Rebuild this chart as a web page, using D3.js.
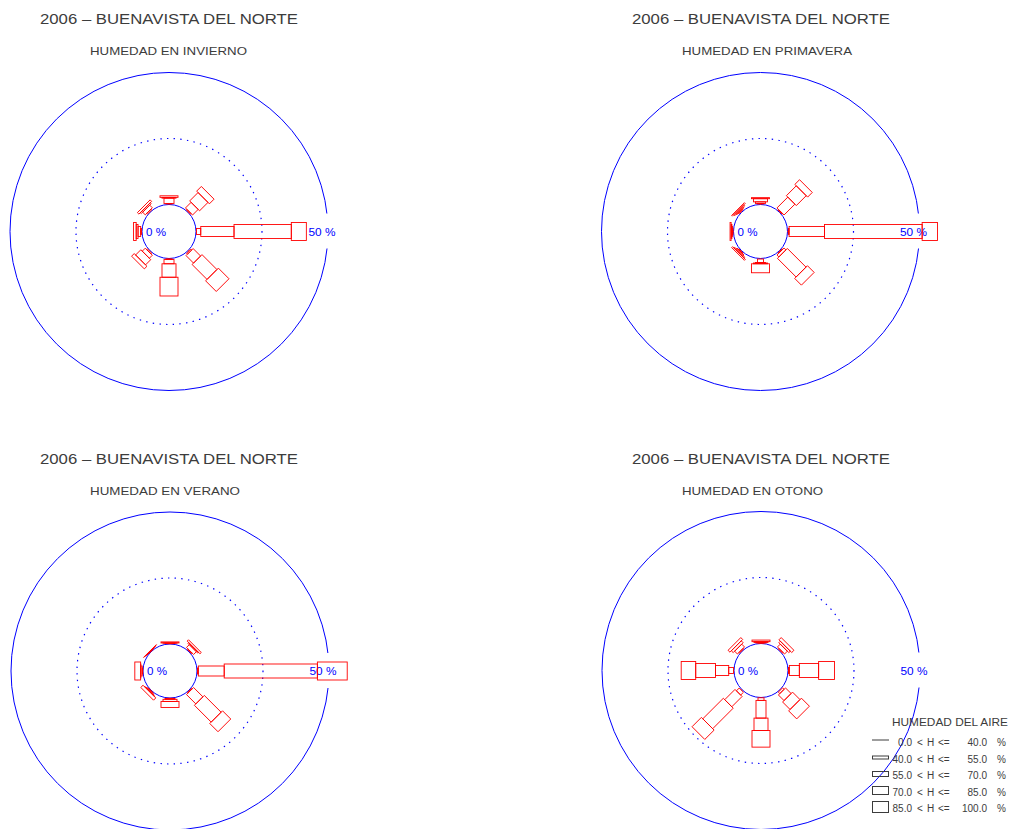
<!DOCTYPE html>
<html>
<head>
<meta charset="utf-8">
<script src="https://cdn.jsdelivr.net/npm/d3@7"></script>
<style>
  body { margin: 0; background: #fff; }
  text { font-family: "Liberation Sans", Arial, sans-serif; }
</style>
</head>
<body>
<script>
// rumbos (N arriba, sentido horario)
var direcciones = ["N", "NE", "E", "SE", "S", "SW", "W", "NW"];
var rumbos = [0, 45, 90, 135, 180, 225, 270, 315];

// clases de humedad
var limInf = ["0.0", "40.0", "55.0", "70.0", "85.0"];
var limSup = ["40.0", "55.0", "70.0", "85.0", "100.0"];

// % de frecuencia por rumbo y clase (N, NE, E, SE, S, SW, W, NW)
var invierno = [
  [0.2, 0.2, 2.0, 0.3, 0.6],
  [0.2, 0.3, 3.0, 4.5, 2.5],
  [0.2, 1.6, 12.6, 21.7, 5.7],
  [0.3, 0.5, 4.0, 8.0, 5.7],
  [0.1, 0.3, 1.6, 5.1, 7.1],
  [0.2, 0.4, 1.6, 2.8, 1.4],
  [0.2, 0.3, 1.0, 0.7, 1.0],
  [0.2, 0.4, 1.4, 0.5, 0.8]
];
var primavera = [
  [0.2, 0.2, 0.6, 1.2, 0.4],
  [0.2, 0.3, 5.8, 5.3, 2.5],
  [0.3, 0.3, 13.4, 37.0, 5.8],
  [0.2, 0.3, 1.0, 10.0, 3.6],
  [0.2, 1.3, 0.2, 0.3, 3.4],
  [0.2, 0.3, 0.4, 0.4, 0.5],
  [0.2, 0.2, 0.2, 0.3, 0.4],
  [0.3, 0.3, 0.3, 0.5, 0.4]
];
var verano = [
  [0.1, 0.1, 0.1, 0.1, 0.4],
  [0.2, 0.3, 1.5, 0.4, 0.7],
  [0.2, 0.3, 9.8, 35.3, 11.3],
  [0.2, 0.3, 5.0, 9.0, 4.4],
  [0.1, 0.1, 0.3, 0.8, 2.3],
  [0.1, 0.2, 0.3, 0.2, 1.2],
  [0.1, 0.2, 0.5, 0.1, 2.2],
  [0.1, 0.1, 0.1, 0.1, 0.1]
];
var otono = [
  [0.1, 0.1, 0.2, 0.3, 0.6],
  [0.2, 0.3, 1.5, 0.8, 1.2],
  [0.2, 0.3, 3.8, 7.3, 6.0],
  [0.2, 0.8, 3.0, 4.0, 4.3],
  [0.1, 1.0, 6.7, 4.7, 6.3],
  [0.3, 1.5, 5.5, 11.0, 5.0],
  [0.2, 1.8, 5.0, 7.5, 5.5],
  [0.2, 0.3, 1.5, 1.0, 1.0]
];

var titulo = "2006 \u2013 BUENAVISTA DEL NORTE";
var estaciones = ["HUMEDAD EN INVIERNO", "HUMEDAD EN PRIMAVERA", "HUMEDAD EN VERANO", "HUMEDAD EN OTONO"];
var series = [invierno, primavera, verano, otono];

var w = 1010, h = 829;
var azul = "#0000ff", rojo = "#ff0000", tinta = "#3c3c3c";

// layout de cada panel
var paneles = [
  {cx: 169, cy: 231.5, tx: 40, ty: 0, sub: 157},
  {cx: 760.5, cy: 231.5, tx: 632, ty: 0, sub: 170},
  {cx: 170, cy: 671, tx: 40, ty: 440, sub: 150},
  {cx: 761, cy: 670.5, tx: 632, ty: 440, sub: 141}
];

var r = d3.scaleLinear().domain([0, 50]).range([27, 159]);
var grosor = d3.scaleOrdinal().domain([0, 1, 2, 3, 4]).range([0, 6, 10, 14, 18]);

var svg = d3.select("body").append("svg")
  .attr("width", w)
  .attr("height", h);

paneles.forEach(function(p, k) {
  svg.append("text")
    .attr("x", p.tx).attr("y", p.ty + 24)
    .attr("font-size", 15)
    .attr("fill", tinta)
    .attr("textLength", 258)
    .attr("lengthAdjust", "spacingAndGlyphs")
    .text(titulo);

  svg.append("text")
    .attr("x", p.tx + 50).attr("y", p.ty + 55)
    .attr("font-size", 11.5)
    .attr("fill", tinta)
    .attr("textLength", p.sub)
    .attr("lengthAdjust", "spacingAndGlyphs")
    .text(estaciones[k]);

  var g = svg.append("g")
    .attr("transform", "translate(" + p.cx + "," + p.cy + ")");

  g.append("circle")
    .attr("r", r(50))
    .attr("fill", "none")
    .attr("stroke", azul);

  g.append("circle")
    .attr("r", r(25))
    .attr("fill", "none")
    .attr("stroke", azul)
    .attr("stroke-width", 1.2)
    .attr("stroke-dasharray", "1.4 5.3");

  // hueco del circulo exterior tras la etiqueta
  g.append("rect")
    .attr("x", r(50) - 24).attr("y", -18)
    .attr("width", 36).attr("height", 35)
    .attr("fill", "#fff");

  g.append("text")
    .attr("x", r(50) - 19.5).attr("y", 4)
    .attr("font-size", 10.5)
    .attr("fill", azul)
    .attr("textLength", 27)
    .attr("lengthAdjust", "spacingAndGlyphs")
    .text("50 %");

  g.append("circle")
    .attr("r", r(0))
    .attr("fill", "none")
    .attr("stroke", azul);

  g.append("text")
    .attr("x", -23).attr("y", 4)
    .attr("font-size", 10.5)
    .attr("fill", azul)
    .attr("textLength", 20)
    .attr("lengthAdjust", "spacingAndGlyphs")
    .text("0 %");

  var brazos = g.selectAll(".brazo")
    .data(series[k])
    .enter()
    .append("g")
    .attr("class", "brazo")
    .attr("transform", function(d, i) {
      return "rotate(" + (rumbos[i] - 90) + ")";
    });

  brazos.each(function(d) {
    var acum = 0;
    var tramos = d.map(function(v, c) {
      var t = {c: c, a: acum, b: acum + v};
      acum += v;
      return t;
    });
    var b = d3.select(this);
    tramos.forEach(function(t) {
      if (grosor(t.c) === 0) {
        b.append("line")
          .attr("x1", r(t.a)).attr("x2", r(t.b))
          .attr("y1", 0).attr("y2", 0)
          .attr("stroke", rojo);
      } else {
        b.append("rect")
          .attr("x", r(t.a))
          .attr("y", -grosor(t.c) / 2)
          .attr("width", r(t.b) - r(t.a))
          .attr("height", grosor(t.c))
          .attr("fill", "none")
          .attr("stroke", rojo)
          .attr("stroke-width", 0.9);
      }
    });
  });
});

// leyenda
var ley = svg.append("g");
var altoLey = [0, 3, 5, 8, 11];

ley.append("text")
  .attr("x", 892).attr("y", 726)
  .attr("font-size", 10.5)
  .attr("fill", tinta)
  .attr("textLength", 116)
  .attr("lengthAdjust", "spacingAndGlyphs")
  .text("HUMEDAD DEL AIRE");

limInf.forEach(function(li, i) {
  var yc = 742 + i * 16.5;
  if (altoLey[i] === 0) {
    ley.append("line")
      .attr("x1", 872).attr("x2", 889)
      .attr("y1", yc - 2).attr("y2", yc - 2)
      .attr("stroke", tinta);
  } else {
    ley.append("rect")
      .attr("x", 872.5).attr("y", yc - 1 - altoLey[i] / 2)
      .attr("width", 16).attr("height", altoLey[i])
      .attr("fill", "none")
      .attr("stroke", tinta);
  }
  var fila = ley.append("g")
    .attr("font-size", 10)
    .attr("fill", tinta);
  fila.append("text").attr("x", 912).attr("y", yc + 4)
    .attr("text-anchor", "end").text(li);
  fila.append("text").attr("x", 917).attr("y", yc + 4).text("<");
  fila.append("text").attr("x", 927).attr("y", yc + 4).text("H");
  fila.append("text").attr("x", 938).attr("y", yc + 4).text("<=");
  fila.append("text").attr("x", 987).attr("y", yc + 4)
    .attr("text-anchor", "end").text(limSup[i]);
  fila.append("text").attr("x", 997).attr("y", yc + 4).text("%");
});
</script>
</body>
</html>
